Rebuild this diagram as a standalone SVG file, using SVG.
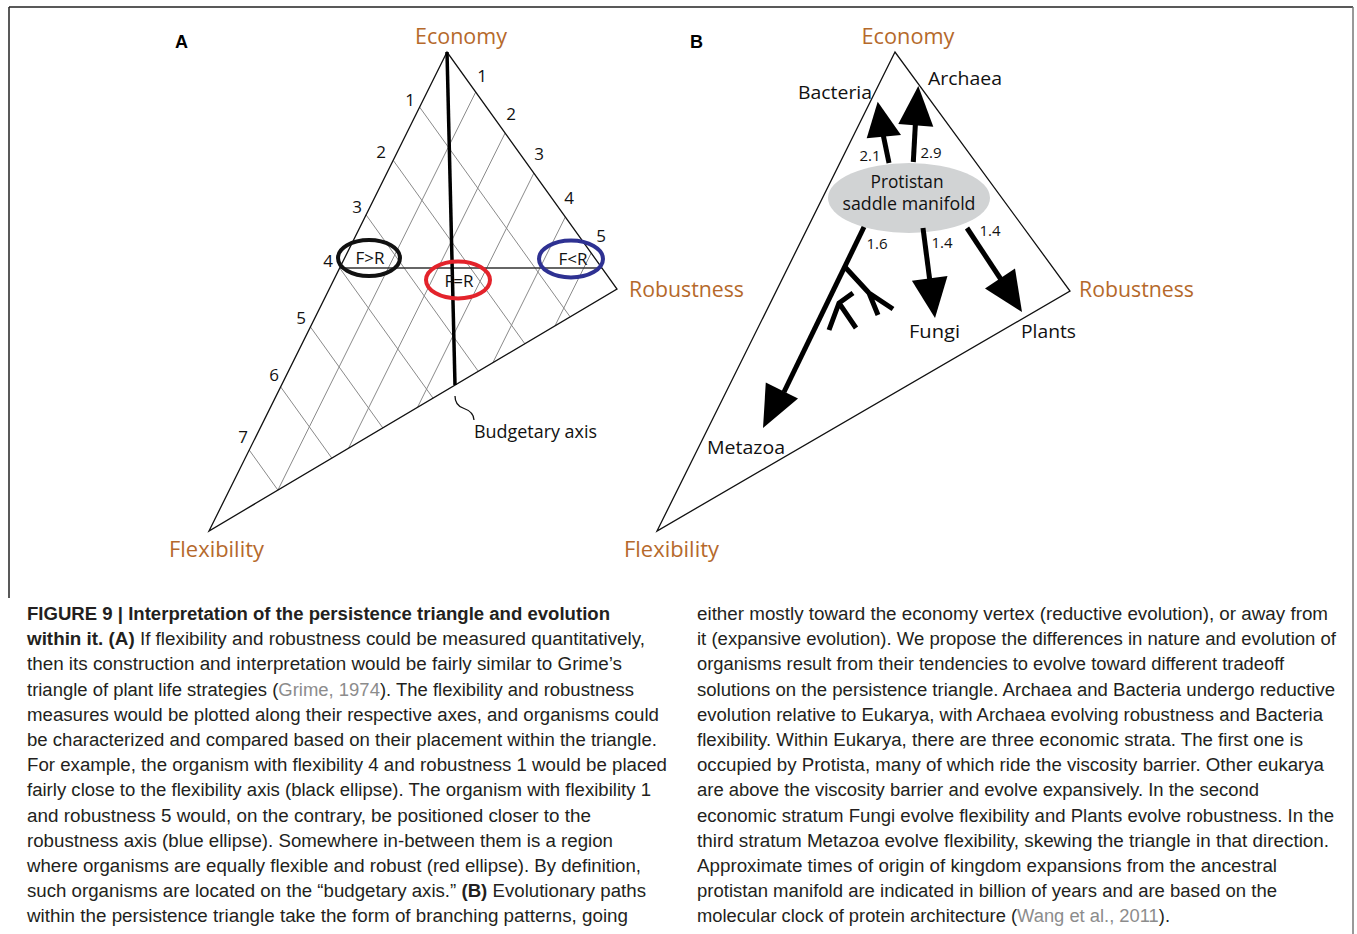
<svg xmlns="http://www.w3.org/2000/svg" width="1357" height="934" viewBox="0 0 1357 934">
<defs>
<style>
.lbl{font-family:"Open Sans","Noto Sans","Liberation Sans",sans-serif;fill:#b5692b;font-size:22px}
.t{font-family:"Open Sans","Noto Sans","Liberation Sans",sans-serif;fill:#111;font-size:18px}
.num{font-family:"Open Sans","Noto Sans","Liberation Sans",sans-serif;fill:#111;font-size:17px}
.nb{font-family:"Open Sans","Noto Sans","Liberation Sans",sans-serif;fill:#111;font-size:15px}
.pl{font-family:"Liberation Sans",Arial,sans-serif;font-weight:bold;font-size:18px;fill:#000}
.cap{font-family:"Liberation Sans",Arial,sans-serif;font-size:18px;fill:#231f20}
.cb{font-weight:bold}
.cite{fill:#8c8c8c}
.edge{fill:none;stroke:#111;stroke-width:1.3}
.grid{fill:none;stroke:#8a8a8a;stroke-width:1}
.thick{fill:none;stroke:#000;stroke-width:5;stroke-linecap:butt}
.head{fill:#000;stroke:none}
</style>
</defs>
<rect width="1357" height="934" fill="#fff"/>
<g id="frame" stroke="#222" stroke-width="1.5" fill="none">
<line x1="9" y1="7" x2="1353" y2="7"/>
<line x1="9" y1="7" x2="9" y2="598"/>
<line x1="1353" y1="7" x2="1353" y2="934" stroke="#777"/>
</g>

<g id="panelA">
<text class="pl" x="175" y="48">A</text>
<g id="gridA">
<line class="grid" x1="419.6" y1="107.1" x2="570.1" y2="316.8"/>
<line class="grid" x1="393.2" y1="160.3" x2="524.8" y2="343.7"/>
<line class="grid" x1="366.1" y1="214.9" x2="478.3" y2="371.3"/>
<line class="grid" x1="339.7" y1="268" x2="433" y2="398.1"/>
<line class="grid" x1="310.4" y1="326.9" x2="382.8" y2="427.9"/>
<line class="grid" x1="280.6" y1="386.8" x2="331.8" y2="458.1"/>
<line class="grid" x1="249.2" y1="450" x2="277.9" y2="490.1"/>
<line class="grid" x1="475.7" y1="92.1" x2="277.9" y2="490.1"/>
<line class="grid" x1="505.1" y1="133.1" x2="348.5" y2="448.3"/>
<line class="grid" x1="533.9" y1="173.1" x2="417.5" y2="407.3"/>
<line class="grid" x1="565.3" y1="217" x2="492.9" y2="362.6"/>
<line class="grid" x1="591.2" y1="253" x2="555" y2="325.8"/>
</g>
<polygon class="edge" points="447,52 209,531 617,289"/>
<line x1="339.7" y1="268" x2="602" y2="268" stroke="#333" stroke-width="1.6"/>
<line x1="447" y1="52" x2="455" y2="385" stroke="#000" stroke-width="3.5"/>
<path d="M455,396 q0,9 8,12 q11,4 11,12" fill="none" stroke="#111" stroke-width="1.3"/>
<text class="lbl" x="461" y="44" text-anchor="middle" textLength="92" lengthAdjust="spacingAndGlyphs">Economy</text>
<text class="lbl" x="629" y="297" textLength="115" lengthAdjust="spacingAndGlyphs">Robustness</text>
<text class="lbl" x="169" y="557" textLength="95" lengthAdjust="spacingAndGlyphs">Flexibility</text>
<text class="t" x="474" y="438" textLength="123" lengthAdjust="spacingAndGlyphs">Budgetary axis</text>
<g text-anchor="middle">
<text class="num" x="410" y="106">1</text>
<text class="num" x="381" y="158">2</text>
<text class="num" x="357" y="213">3</text>
<text class="num" x="328" y="267">4</text>
<text class="num" x="301" y="324">5</text>
<text class="num" x="274" y="381">6</text>
<text class="num" x="243" y="443">7</text>
<text class="num" x="482" y="82">1</text>
<text class="num" x="511" y="120">2</text>
<text class="num" x="539" y="160">3</text>
<text class="num" x="569" y="204">4</text>
<text class="num" x="601" y="242">5</text>
</g>
<g id="ellFR">
<ellipse cx="369" cy="258" rx="31" ry="18" fill="none" stroke="#111" stroke-width="4"/>
<text class="num" x="370" y="264" text-anchor="middle">F&gt;R</text>
</g>
<g id="ellEq">
<ellipse cx="458" cy="280" rx="32" ry="18.5" fill="none" stroke="#e3232b" stroke-width="4"/>
<text class="num" x="459" y="287" text-anchor="middle">F=R</text>
</g>
<g id="ellRF">
<ellipse cx="571" cy="259" rx="32" ry="18.5" fill="none" stroke="#2e3192" stroke-width="4"/>
<text class="num" x="573" y="265" text-anchor="middle">F&lt;R</text>
</g>
</g>

<g id="panelB">
<text class="pl" x="690" y="48">B</text>
<polygon class="edge" points="895,52 657,531 1070,291"/>
<text class="lbl" x="908" y="44" text-anchor="middle" textLength="93" lengthAdjust="spacingAndGlyphs">Economy</text>
<text class="lbl" x="1079" y="297" textLength="115" lengthAdjust="spacingAndGlyphs">Robustness</text>
<text class="lbl" x="624" y="557" textLength="95" lengthAdjust="spacingAndGlyphs">Flexibility</text>
<g id="manifold">
<ellipse cx="909" cy="198" rx="81" ry="35" fill="#d1d3d4"/>
<text class="t" x="907" y="188" text-anchor="middle" font-size="16" textLength="73" lengthAdjust="spacingAndGlyphs">Protistan</text>
<text class="t" x="909" y="210" text-anchor="middle" font-size="16" textLength="133" lengthAdjust="spacingAndGlyphs">saddle manifold</text>
</g>
<g id="bacteria">
<text class="t" x="798" y="99" textLength="74" lengthAdjust="spacingAndGlyphs">Bacteria</text>
</g>
<g id="archaea">
<text class="t" x="928" y="85" textLength="74" lengthAdjust="spacingAndGlyphs">Archaea</text>
</g>
<g id="fungi"><text class="t" x="909" y="338" textLength="51" lengthAdjust="spacingAndGlyphs">Fungi</text></g>
<g id="plants"><text class="t" x="1021" y="338" textLength="55" lengthAdjust="spacingAndGlyphs">Plants</text></g>
<g id="metazoa"><text class="t" x="707" y="454" textLength="78" lengthAdjust="spacingAndGlyphs">Metazoa</text></g>
<g id="connectors">
<line class="thick" x1="889" y1="163" x2="883" y2="134"/>
<polygon class="head" points="877.7,101.7 866.7,138.3 901,135"/>
<line class="thick" x1="913.3" y1="162" x2="915.5" y2="122"/>
<polygon class="head" points="918.3,86 898.3,124 933.3,126.7"/>
<line class="thick" x1="864" y1="227" x2="784" y2="392"/>
<polygon class="head" points="763,428 798,398.6 765.8,382.4"/>
<line class="thick" x1="923" y1="228" x2="930" y2="282"/>
<polygon class="head" points="935,318 947.5,276 911.9,280.8"/>
<line class="thick" x1="967" y1="228" x2="1002" y2="281"/>
<polygon class="head" points="1022,312 1015,268.6 985,288.4"/>
<path class="thick" d="M845,267 L869,293 L893,309 M869,293 L878,315" stroke-width="4.5"/>
<path class="thick" d="M853,293 L839,303 L829,330 M839,303 L856,328" stroke-width="4.5"/>
</g>
<text class="nb" x="870" y="161" text-anchor="middle">2.1</text>
<text class="nb" x="931" y="158" text-anchor="middle">2.9</text>
<text class="nb" x="877" y="249" text-anchor="middle">1.6</text>
<text class="nb" x="942" y="248" text-anchor="middle">1.4</text>
<text class="nb" x="990" y="236" text-anchor="middle">1.4</text>
</g>

<g id="caption" class="cap">
<text x="27" y="620" class="cb" textLength="583" lengthAdjust="spacingAndGlyphs">FIGURE 9 | Interpretation of the persistence triangle and evolution</text>
<text x="27" y="645.2" textLength="618" lengthAdjust="spacingAndGlyphs"><tspan class="cb">within it. (A)</tspan> If flexibility and robustness could be measured quantitatively,</text>
<text x="27" y="670.4" textLength="595" lengthAdjust="spacingAndGlyphs">then its construction and interpretation would be fairly similar to Grime’s</text>
<text x="27" y="695.6" textLength="607" lengthAdjust="spacingAndGlyphs">triangle of plant life strategies (<tspan class="cite">Grime, 1974</tspan>). The flexibility and robustness</text>
<text x="27" y="720.8" textLength="632" lengthAdjust="spacingAndGlyphs">measures would be plotted along their respective axes, and organisms could</text>
<text x="27" y="746" textLength="630" lengthAdjust="spacingAndGlyphs">be characterized and compared based on their placement within the triangle.</text>
<text x="27" y="771.2" textLength="640" lengthAdjust="spacingAndGlyphs">For example, the organism with flexibility 4 and robustness 1 would be placed</text>
<text x="27" y="796.4" textLength="624" lengthAdjust="spacingAndGlyphs">fairly close to the flexibility axis (black ellipse). The organism with flexibility 1</text>
<text x="27" y="821.6" textLength="564" lengthAdjust="spacingAndGlyphs">and robustness 5 would, on the contrary, be positioned closer to the</text>
<text x="27" y="846.8" textLength="586" lengthAdjust="spacingAndGlyphs">robustness axis (blue ellipse). Somewhere in-between them is a region</text>
<text x="27" y="872" textLength="614" lengthAdjust="spacingAndGlyphs">where organisms are equally flexible and robust (red ellipse). By definition,</text>
<text x="27" y="897.2" textLength="619" lengthAdjust="spacingAndGlyphs">such organisms are located on the “budgetary axis.” <tspan class="cb">(B)</tspan> Evolutionary paths</text>
<text x="27" y="922.4" textLength="601" lengthAdjust="spacingAndGlyphs">within the persistence triangle take the form of branching patterns, going</text>
<text x="697" y="620" textLength="631" lengthAdjust="spacingAndGlyphs">either mostly toward the economy vertex (reductive evolution), or away from</text>
<text x="697" y="645.2" textLength="639" lengthAdjust="spacingAndGlyphs">it (expansive evolution). We propose the differences in nature and evolution of</text>
<text x="697" y="670.4" textLength="587" lengthAdjust="spacingAndGlyphs">organisms result from their tendencies to evolve toward different tradeoff</text>
<text x="697" y="695.6" textLength="638" lengthAdjust="spacingAndGlyphs">solutions on the persistence triangle. Archaea and Bacteria undergo reductive</text>
<text x="697" y="720.8" textLength="626" lengthAdjust="spacingAndGlyphs">evolution relative to Eukarya, with Archaea evolving robustness and Bacteria</text>
<text x="697" y="746" textLength="606" lengthAdjust="spacingAndGlyphs">flexibility. Within Eukarya, there are three economic strata. The first one is</text>
<text x="697" y="771.2" textLength="627" lengthAdjust="spacingAndGlyphs">occupied by Protista, many of which ride the viscosity barrier. Other eukarya</text>
<text x="697" y="796.4" textLength="562" lengthAdjust="spacingAndGlyphs">are above the viscosity barrier and evolve expansively. In the second</text>
<text x="697" y="821.6" textLength="637" lengthAdjust="spacingAndGlyphs">economic stratum Fungi evolve flexibility and Plants evolve robustness. In the</text>
<text x="697" y="846.8" textLength="632" lengthAdjust="spacingAndGlyphs">third stratum Metazoa evolve flexibility, skewing the triangle in that direction.</text>
<text x="697" y="872" textLength="580" lengthAdjust="spacingAndGlyphs">Approximate times of origin of kingdom expansions from the ancestral</text>
<text x="697" y="897.2" textLength="580" lengthAdjust="spacingAndGlyphs">protistan manifold are indicated in billion of years and are based on the</text>
<text x="697" y="922.4" textLength="473" lengthAdjust="spacingAndGlyphs">molecular clock of protein architecture (<tspan class="cite">Wang et al., 2011</tspan>).</text>
</g>
</svg>
